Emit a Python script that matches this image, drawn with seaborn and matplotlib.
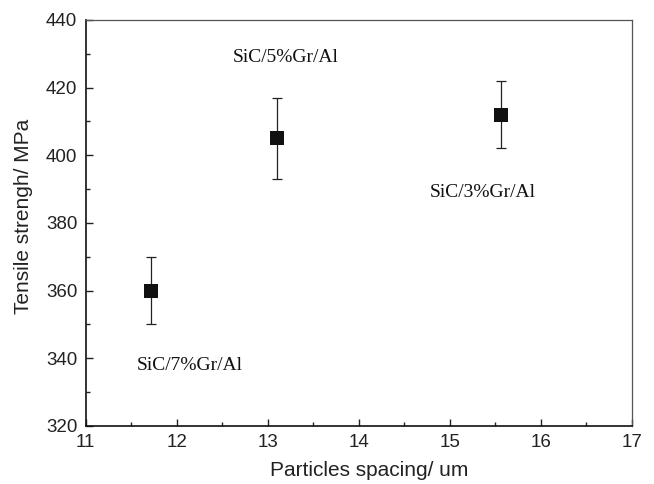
import matplotlib
matplotlib.use("Agg")
import matplotlib.pyplot as plt
import seaborn as sns
import pandas as pd
from matplotlib.ticker import MultipleLocator

spacing = [11.72, 13.10, 15.56]
strength = [360, 405, 412]
err = [10, 12, 10]
labels = ["SiC/7%Gr/Al", "SiC/5%Gr/Al", "SiC/3%Gr/Al"]
label_x = [12.14, 13.20, 15.36]
label_y = [338, 429, 389]

df = pd.DataFrame({"x": spacing, "y": strength, "e": err})

sns.set_style("ticks")
plt.rcParams['font.family'] = ['Liberation Sans', 'DejaVu Sans']

fig, ax = plt.subplots(figsize=(6.54, 4.84), dpi=100)
fig.subplots_adjust(left=0.131, right=0.966, top=0.959, bottom=0.12)

ax.errorbar(df["x"], df["y"], yerr=df["e"], fmt="none", ecolor="#222222",
            elinewidth=0.9, capsize=3.3, capthick=0.9, zorder=2)
sns.scatterplot(data=df, x="x", y="y", marker="s", s=95, color="#111111",
                edgecolor="#111111", linewidth=0, ax=ax, zorder=3)

for t, x, y in zip(labels, label_x, label_y):
    ax.text(x, y, t, ha="center", va="center", fontsize=14,
            family="Liberation Serif", color="#111111")

ax.set_xlim(11, 17)
ax.set_ylim(320, 440)
ax.xaxis.set_major_locator(MultipleLocator(1))
ax.xaxis.set_minor_locator(MultipleLocator(0.5))
ax.yaxis.set_major_locator(MultipleLocator(20))
ax.yaxis.set_minor_locator(MultipleLocator(10))
ax.tick_params(which="both", direction="in", labelsize=13.5, colors="#222222")
ax.tick_params(axis="x", pad=6)
ax.tick_params(axis="y", pad=6)
ax.tick_params(which="major", length=5, width=1)
ax.tick_params(which="minor", length=3, width=1)
ax.set_xlabel("Particles spacing/ um", fontsize=15, color="#222222")
ax.set_ylabel("Tensile strengh/ MPa", fontsize=15, color="#222222")
ax.xaxis.set_label_coords(0.52, -0.111)
ax.yaxis.set_label_coords(-0.114, 0.517)
ax.xaxis.label.set_va("center")
ax.yaxis.label.set_va("center")

for s in ["left", "bottom"]:
    ax.spines[s].set_linewidth(1.2)
    ax.spines[s].set_color("#111111")
for s in ["top", "right"]:
    ax.spines[s].set_visible(True)
    ax.spines[s].set_linewidth(0.9)
    ax.spines[s].set_color("#555555")

fig.savefig("out.png", dpi=100)
